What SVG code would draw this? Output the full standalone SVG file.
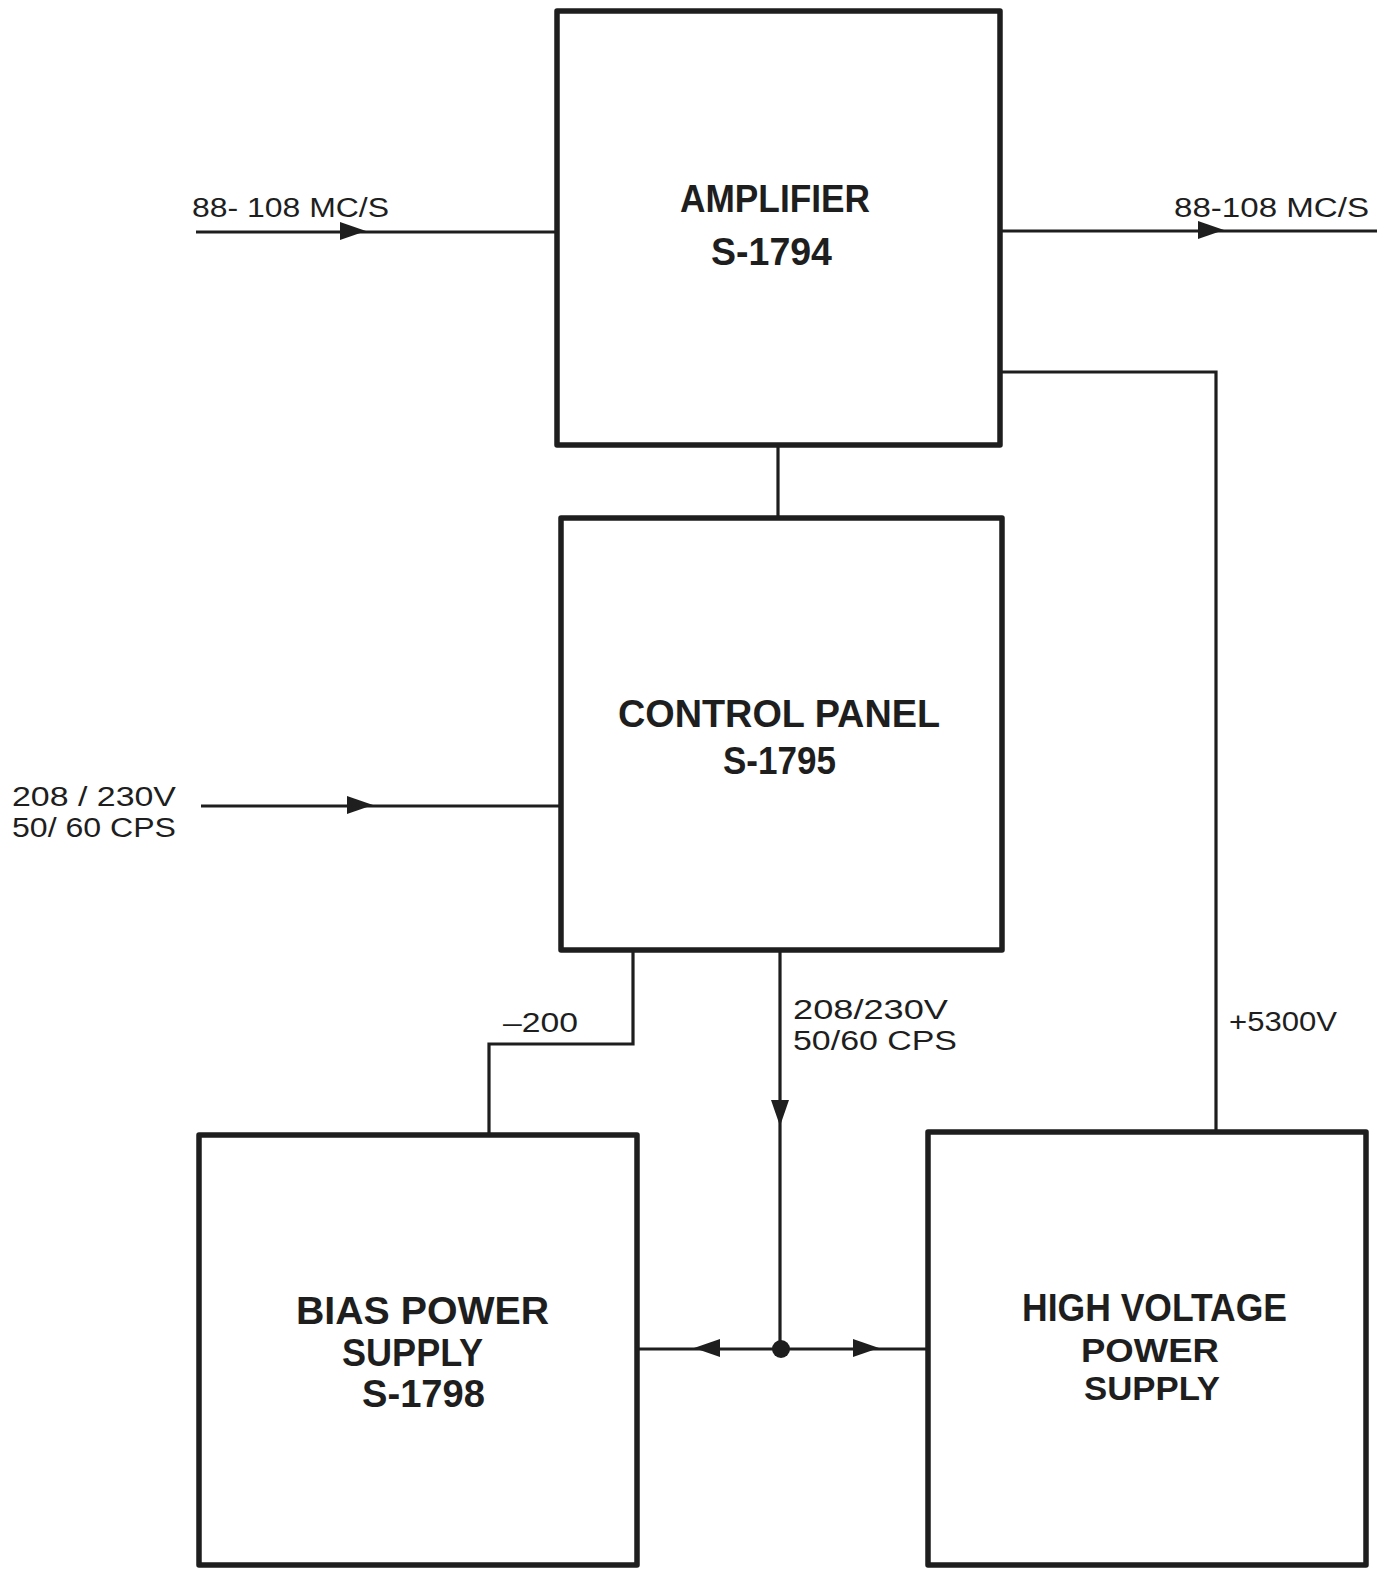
<svg xmlns="http://www.w3.org/2000/svg" xmlns:xlink="http://www.w3.org/1999/xlink" width="1391" height="1569" viewBox="0 0 1391 1569">
<style>
.box{fill:none;stroke:#1e1e1e;stroke-width:5.5;stroke-linejoin:round}
.ln{fill:none;stroke:#1e1e1e;stroke-width:3.2}
.ah{fill:#1e1e1e}
.big{font-family:"Liberation Sans",Arial,sans-serif;font-size:38px;font-weight:bold;fill:#1e1e1e}
.tight{font-size:33px}
.sm{font-family:"Liberation Sans",Arial,sans-serif;font-size:27px;fill:#1e1e1e}
</style>
<defs>
<path id="arr" d="M0,0 L-26,-9 L-26,9 Z"/>
</defs>
<rect width="1391" height="1569" fill="#fff"/>
<g id="connectors">
<path class="ln" d="M196,232 H557"/>
<use xlink:href="#arr" class="ah" transform="translate(366,231)"/>
<path class="ln" d="M1000,231 H1377"/>
<use xlink:href="#arr" class="ah" transform="translate(1224,230)"/>
<path class="ln" d="M1000,372 H1216 V1132"/>
<path class="ln" d="M778,445 V518"/>
<path class="ln" d="M201,806 H561"/>
<use xlink:href="#arr" class="ah" transform="translate(373,805)"/>
<path class="ln" d="M633,950 V1044 H489 V1135"/>
<path class="ln" d="M780,950 V1349"/>
<use xlink:href="#arr" class="ah" transform="translate(780,1126) rotate(90)"/>
<path class="ln" d="M637,1349 H928"/>
<use xlink:href="#arr" class="ah" transform="translate(694,1348) rotate(180)"/>
<use xlink:href="#arr" class="ah" transform="translate(879,1348)"/>
<circle class="ah" cx="781" cy="1349" r="9"/>
<text class="sm" x="192" y="217" textLength="197" lengthAdjust="spacingAndGlyphs">88- 108 MC/S</text>
<text class="sm" x="1174" y="217" textLength="195" lengthAdjust="spacingAndGlyphs">88-108 MC/S</text>
<text class="sm" x="12" y="806" textLength="164" lengthAdjust="spacingAndGlyphs">208 / 230V</text>
<text class="sm" x="12" y="837" textLength="164" lengthAdjust="spacingAndGlyphs">50/ 60 CPS</text>
<text class="sm" x="503" y="1032" textLength="75" lengthAdjust="spacingAndGlyphs">–200</text>
<text class="sm" x="793" y="1019" textLength="155" lengthAdjust="spacingAndGlyphs">208/230V</text>
<text class="sm" x="793" y="1050" textLength="164" lengthAdjust="spacingAndGlyphs">50/60 CPS</text>
<text class="sm" x="1229" y="1031" textLength="108" lengthAdjust="spacingAndGlyphs">+5300V</text>
</g>
<g id="amplifier">
<rect class="box" x="557" y="11" width="443" height="434"/>
<text class="big" x="680" y="212" textLength="190" lengthAdjust="spacingAndGlyphs">AMPLIFIER</text>
<text class="big" x="711" y="265" textLength="121" lengthAdjust="spacingAndGlyphs">S-1794</text>
</g>
<g id="control-panel">
<rect class="box" x="561" y="518" width="441" height="432"/>
<text class="big" x="618" y="727" textLength="322" lengthAdjust="spacingAndGlyphs">CONTROL PANEL</text>
<text class="big" x="723" y="774" textLength="113" lengthAdjust="spacingAndGlyphs">S-1795</text>
</g>
<g id="bias-power-supply">
<rect class="box" x="199" y="1135" width="438" height="430"/>
<text class="big" x="296" y="1324" textLength="253" lengthAdjust="spacingAndGlyphs">BIAS POWER</text>
<text class="big" x="342" y="1366" textLength="141" lengthAdjust="spacingAndGlyphs">SUPPLY</text>
<text class="big" x="362" y="1407" textLength="123" lengthAdjust="spacingAndGlyphs">S-1798</text>
</g>
<g id="high-voltage-power-supply">
<rect class="box" x="928" y="1132" width="438" height="433"/>
<text class="big" x="1022" y="1321" textLength="265" lengthAdjust="spacingAndGlyphs">HIGH VOLTAGE</text>
<text class="big tight" x="1081" y="1362" textLength="138" lengthAdjust="spacingAndGlyphs">POWER</text>
<text class="big tight" x="1084" y="1400" textLength="136" lengthAdjust="spacingAndGlyphs">SUPPLY</text>
</g>
</svg>
